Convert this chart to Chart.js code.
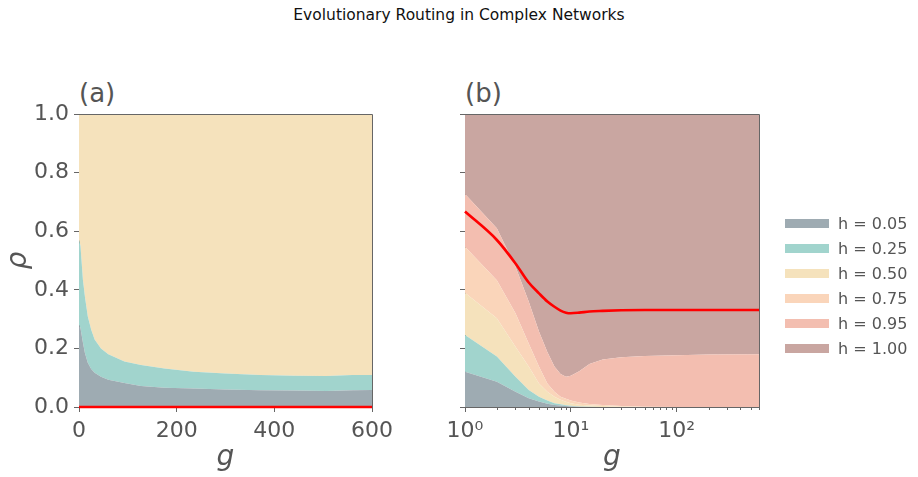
<!DOCTYPE html>
<html>
<head>
<meta charset="utf-8">
<script src="https://cdn.jsdelivr.net/npm/chart.js@4.4.0/dist/chart.umd.min.js"></script>
<style>
  body { margin: 0; background: #fff; width: 918px; height: 477px; overflow: hidden; position: relative; font-family: "DejaVu Sans", sans-serif; }
  canvas { position: absolute; left: 0; top: 0; }
  #title { position: absolute; left: 0; top: 5px; width: 918px; text-align: center; font-size: 15.5px; line-height: 20px; color: #111; }
  .panel-label { position: absolute; top: 80px; font-size: 26px; line-height: 26px; color: #555; }
  #legend { position: absolute; left: 785px; top: 211px; }
  .legend-row { height: 25px; display: flex; align-items: center; font-size: 16px; color: #555; }
  .legend-swatch { width: 44px; height: 9px; margin-right: 9px; }
</style>
</head>
<body>
<div id="title">Evolutionary Routing in Complex Networks</div>
<div class="panel-label" style="left:79px">(a)</div>
<div class="panel-label" style="left:465px">(b)</div>
<canvas id="chartA" width="918" height="477"></canvas>
<canvas id="chartB" width="918" height="477"></canvas>
<div id="legend"></div>
<script>
// legend / band definitions
const bandLabels = ['h = 0.05', 'h = 0.25', 'h = 0.50', 'h = 0.75', 'h = 0.95', 'h = 1.00'];
const bandColors = ['#9eabb2', '#a1d4cd', '#f5e2bc', '#fad5ba', '#f3beb0', '#c9a6a1'];

// panel (a): linear g, upper edge of each stacked band
const gA = [0, 3, 8, 12, 18, 25, 32, 45, 60, 93, 127, 175, 235, 300, 371, 440, 507, 560, 600];
const edgeA005 = [0.280, 0.270, 0.220, 0.185, 0.151, 0.130, 0.117, 0.103, 0.093, 0.082, 0.072, 0.066, 0.063, 0.060, 0.057, 0.056, 0.055, 0.057, 0.058];
const edgeA025 = [0.570, 0.550, 0.434, 0.378, 0.309, 0.264, 0.230, 0.200, 0.180, 0.155, 0.143, 0.131, 0.120, 0.114, 0.109, 0.107, 0.106, 0.109, 0.109];
const edgeA050 = [1, 1, 1, 1, 1, 1, 1, 1, 1, 1, 1, 1, 1, 1, 1, 1, 1, 1, 1];
const rhoA = [0, 0, 0, 0, 0, 0, 0, 0, 0, 0, 0, 0, 0, 0, 0, 0, 0, 0, 0];

// panel (b): log g
const gB = [1, 2, 3, 4, 5, 6, 7, 8, 9, 10, 12, 15, 20, 30, 50, 100, 200, 600];
const edgeB005 = [0.120, 0.086, 0.052, 0.030, 0.019, 0.011, 0.007, 0.005, 0.003, 0.002, 0.001, 0, 0, 0, 0, 0, 0, 0];
const edgeB025 = [0.246, 0.172, 0.103, 0.058, 0.035, 0.022, 0.013, 0.009, 0.006, 0.004, 0.002, 0.001, 0, 0, 0, 0, 0, 0];
const edgeB050 = [0.390, 0.303, 0.206, 0.138, 0.080, 0.052, 0.035, 0.025, 0.018, 0.013, 0.008, 0.005, 0.003, 0.001, 0, 0, 0, 0];
const edgeB075 = [0.547, 0.433, 0.320, 0.217, 0.138, 0.080, 0.052, 0.035, 0.028, 0.022, 0.015, 0.010, 0.007, 0.003, 0.001, 0, 0, 0];
const edgeB095 = [0.727, 0.610, 0.479, 0.360, 0.258, 0.188, 0.138, 0.113, 0.103, 0.107, 0.122, 0.147, 0.162, 0.170, 0.174, 0.177, 0.179, 0.180];
const edgeB100 = [1, 1, 1, 1, 1, 1, 1, 1, 1, 1, 1, 1, 1, 1, 1, 1, 1, 1];
const rhoB = [0.667, 0.570, 0.490, 0.425, 0.388, 0.360, 0.342, 0.329, 0.322, 0.320, 0.322, 0.326, 0.328, 0.330, 0.331, 0.331, 0.331, 0.331];

// ticks
const yTicks = [0, 0.2, 0.4, 0.6, 0.8, 1.0];
const yTickLabels = ['0.0', '0.2', '0.4', '0.6', '0.8', '1.0'];
const xTicksA = [0, 200, 400, 600];
const xTickLabelsA = ['0', '200', '400', '600'];
const xTicksB = [1, 10, 100];
const xTickLabelsB = ['10\u2070', '10\u00b9', '10\u00b2'];

const textColor = '#555';
const spineColor = '#666';
const tickFont = { family: 'DejaVu Sans', size: 22 };
const axisTitleFont = { family: 'DejaVu Sans', size: 28, style: 'italic' };

function toPoints(xs, ys) {
    return xs.map((x, i) => ({ x: x, y: ys[i] }));
}

function bandDataset(xs, ys, idx) {
    return {
        label: bandLabels[idx],
        data: toPoints(xs, ys),
        backgroundColor: bandColors[idx],
        borderColor: 'rgba(0,0,0,0)',
        borderWidth: 0,
        pointRadius: 0,
        fill: idx === 0 ? 'origin' : '-1',
        tension: 0
    };
}

function rhoDataset(xs, ys) {
    return {
        label: 'rho',
        data: toPoints(xs, ys),
        borderColor: '#ff0000',
        borderWidth: 2.6,
        pointRadius: 0,
        fill: false,
        clip: 3,
        cubicInterpolationMode: 'monotone',
        order: -1
    };
}

// top and right spines
const framePlugin = {
    id: 'frame',
    afterDraw(chart) {
        const a = chart.chartArea;
        const ctx = chart.ctx;
        ctx.save();
        ctx.strokeStyle = spineColor;
        ctx.lineWidth = 1;
        ctx.beginPath();
        ctx.moveTo(Math.round(a.left), Math.round(a.top) + 0.5);
        ctx.lineTo(Math.round(a.right) + 0.5, Math.round(a.top) + 0.5);
        ctx.lineTo(Math.round(a.right) + 0.5, Math.round(a.bottom));
        ctx.stroke();
        ctx.restore();
    }
};

// minor ticks on log axis
const minorTickPlugin = {
    id: 'minorTicks',
    afterDraw(chart) {
        const sx = chart.scales.x;
        const ctx = chart.ctx;
        ctx.save();
        ctx.strokeStyle = spineColor;
        ctx.lineWidth = 1;
        ctx.beginPath();
        for (let k = 0; k < 3; k++) {
            for (let m = 2; m <= 9; m++) {
                const v = m * Math.pow(10, k);
                if (v > sx.max) continue;
                const px = Math.round(sx.getPixelForValue(v)) + 0.5;
                ctx.moveTo(px, sx.top);
                ctx.lineTo(px, sx.top + 3);
            }
        }
        ctx.stroke();
        ctx.restore();
    }
};

function yScale(width, showLabels) {
    return {
        min: 0, max: 1,
        afterBuildTicks: s => { s.ticks = yTicks.map(v => ({ value: v })); },
        ticks: {
            font: tickFont, color: textColor, padding: 5,
            callback: (v, i) => showLabels ? yTickLabels[i] : ''
        },
        grid: { drawOnChartArea: false, tickLength: 5, color: spineColor },
        border: { color: spineColor, width: 1 },
        title: showLabels ? {
            display: true, text: '\u03c1', font: axisTitleFont, color: textColor,
            padding: { top: 2, bottom: 0 }
        } : { display: false },
        afterFit: s => { s.width = width; }
    };
}

function xTitle() {
    return {
        display: true, text: 'g', font: axisTitleFont, color: textColor,
        padding: { top: 0, bottom: 2 }
    };
}

Chart.defaults.font.family = 'DejaVu Sans';

new Chart(document.getElementById('chartA'), {
    type: 'line',
    data: {
        datasets: [
            bandDataset(gA, edgeA005, 0),
            bandDataset(gA, edgeA025, 1),
            bandDataset(gA, edgeA050, 2),
            rhoDataset(gA, rhoA)
        ]
    },
    options: {
        responsive: false,
        animation: false,
        devicePixelRatio: 1,
        layout: { padding: { left: 0, top: 114, right: 546, bottom: 0 } },
        plugins: { legend: { display: false }, tooltip: { enabled: false } },
        scales: {
            x: {
                type: 'linear', min: 0, max: 600,
                afterBuildTicks: s => { s.ticks = xTicksA.map(v => ({ value: v })); },
                ticks: {
                    font: tickFont, color: textColor, padding: 6, maxRotation: 0, autoSkip: false,
                    callback: (v, i) => xTickLabelsA[i]
                },
                grid: { drawOnChartArea: false, tickLength: 5, color: spineColor },
                border: { color: spineColor, width: 1 },
                title: xTitle(),
                afterFit: s => { s.height = 70; }
            },
            y: yScale(79, true)
        }
    },
    plugins: [framePlugin]
});

new Chart(document.getElementById('chartB'), {
    type: 'line',
    data: {
        datasets: [
            bandDataset(gB, edgeB005, 0),
            bandDataset(gB, edgeB025, 1),
            bandDataset(gB, edgeB050, 2),
            bandDataset(gB, edgeB075, 3),
            bandDataset(gB, edgeB095, 4),
            bandDataset(gB, edgeB100, 5),
            rhoDataset(gB, rhoB)
        ]
    },
    options: {
        responsive: false,
        animation: false,
        devicePixelRatio: 1,
        layout: { padding: { left: 0, top: 114, right: 159, bottom: 0 } },
        plugins: { legend: { display: false }, tooltip: { enabled: false } },
        scales: {
            x: {
                type: 'logarithmic', min: 1, max: 600,
                afterBuildTicks: s => { s.ticks = xTicksB.map(v => ({ value: v, major: true })); },
                ticks: {
                    font: tickFont, color: textColor, padding: 6, maxRotation: 0, autoSkip: false,
                    callback: (v, i) => xTickLabelsB[i]
                },
                grid: { drawOnChartArea: false, tickLength: 5, color: spineColor },
                border: { color: spineColor, width: 1 },
                title: xTitle(),
                afterFit: s => { s.height = 70; }
            },
            y: yScale(465, false)
        }
    },
    plugins: [framePlugin, minorTickPlugin]
});

// html legend
const legendBox = document.getElementById('legend');
bandLabels.forEach((label, i) => {
    const row = document.createElement('div');
    row.className = 'legend-row';
    row.innerHTML = `<span class="legend-swatch" style="background:${bandColors[i]}"></span><span>${label}</span>`;
    legendBox.appendChild(row);
});
</script>
</body>
</html>
